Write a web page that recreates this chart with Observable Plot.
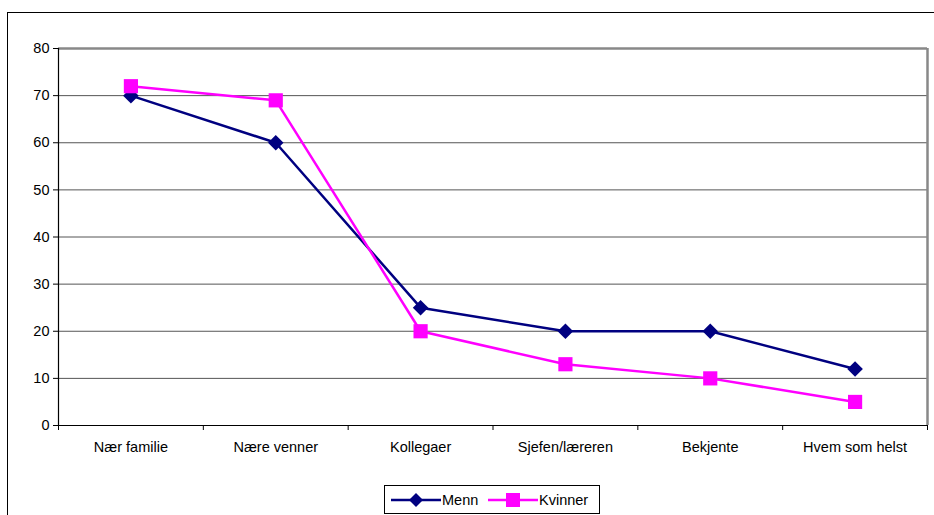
<!DOCTYPE html>
<html>
<head>
<meta charset="utf-8">
<script src="https://cdn.jsdelivr.net/npm/d3@7"></script>
<script src="https://cdn.jsdelivr.net/npm/@observablehq/plot@0.6"></script>
<style>
  body { margin: 0; background: #fff; font-family: "Liberation Sans", Arial, sans-serif; }
  #wrap { position: relative; width: 934px; height: 515px; overflow: hidden; background: #fff; }
  #frame { position: absolute; left: 7px; top: 12px; width: 960px; height: 540px;
           border-left: 1px solid #000; border-top: 1px solid #000; pointer-events: none; }
  #chart { position: absolute; left: 0; top: 0; }
  #legend { position: absolute; left: 384px; top: 485px; width: 214px; height: 27px;
            border: 1px solid #000; background: #fff; }
</style>
</head>
<body>
<div id="wrap">
  <div id="chart"></div>
  <div id="frame"></div>
  <div id="legend"></div>
</div>
<script>
// ---- data ----
const categories = ["Nær familie", "Nære venner", "Kollegaer", "Sjefen/læreren", "Bekjente", "Hvem som helst"];
const seriesNames = ["Menn", "Kvinner"];
const menn = [70, 60, 25, 20, 20, 12];
const kvinner = [72, 69, 20, 13, 10, 5];
const yTicks = [0, 10, 20, 30, 40, 50, 60, 70, 80];
const seriesColors = ["#000080", "#FF00FF"];
const seriesSymbols = ["diamond2", "square"];

const rows = [];
[menn, kvinner].forEach((vals, s) => vals.forEach((v, i) => rows.push({ i, cat: categories[i], series: seriesNames[s], value: v })));
const catIdx = categories.map((_, i) => i);
const boundaries = d3.range(categories.length + 1).map(k => k - 0.5);

const marks = [
  Plot.ruleY(yTicks.filter(t => t > 0 && t < 80), { stroke: "#555", strokeWidth: 1 }),
  Plot.ruleY([80], { stroke: "#888", strokeWidth: 2.5 }),
  Plot.ruleX([categories.length - 0.5], { stroke: "#888", strokeWidth: 2.5 }),
  Plot.ruleX([-0.5], { stroke: "#000", strokeWidth: 1.2 }),
  Plot.ruleY([0], { stroke: "#000", strokeWidth: 1.2 }),
  Plot.axisY({ ticks: yTicks, tickSize: 5, tickPadding: 4, fontSize: 14.5, label: null }),
  Plot.axisX({ ticks: catIdx, tickSize: 0, tickPadding: 16, tickFormat: i => categories[i], fontSize: 14.5, label: null }),
  Plot.axisX({ ticks: boundaries, tickSize: 5, tickFormat: () => "", label: null })
];
seriesNames.forEach((name, s) => {
  const d = rows.filter(r => r.series === name);
  marks.push(Plot.line(d, { x: "i", y: "value", stroke: seriesColors[s], strokeWidth: 2.5 }));
  marks.push(Plot.dot(d, { x: "i", y: "value", fill: seriesColors[s], stroke: "none",
                           symbol: seriesSymbols[s], r: s === 0 ? 7 : 8 }));
});

const chart = Plot.plot({
  width: 934,
  height: 515,
  marginLeft: 58,
  marginRight: 7,
  marginTop: 48,
  marginBottom: 90,
  x: { type: "linear", domain: [-0.5, categories.length - 0.5], axis: null, label: null },
  y: { domain: [0, 80], axis: null, label: null },
  style: { fontFamily: "'Liberation Sans', Arial, sans-serif", fontSize: "14.5px", color: "#000", background: "transparent" },
  marks
});
document.getElementById("chart").appendChild(chart);

// ---- legend ----
const lg = d3.select("#legend").append("svg").attr("width", 214).attr("height", 27)
  .style("font-family", "'Liberation Sans', Arial, sans-serif").style("font-size", "14.5px");
const legendX = [6, 103];
seriesNames.forEach((name, s) => {
  const g = lg.append("g").attr("transform", `translate(${legendX[s]},14)`);
  g.append("line").attr("x1", 0).attr("x2", 50).attr("stroke", seriesColors[s]).attr("stroke-width", 2.5);
  if (s === 0) {
    g.append("path").attr("d", "M25,-7L32,0L25,7L18,0Z").attr("fill", seriesColors[s]);
  } else {
    g.append("rect").attr("x", 18).attr("y", -7).attr("width", 14).attr("height", 14).attr("fill", seriesColors[s]);
  }
  g.append("text").attr("x", 51).attr("y", 0).attr("dy", "0.35em").attr("fill", "#000").text(name);
});
</script>
</body>
</html>
